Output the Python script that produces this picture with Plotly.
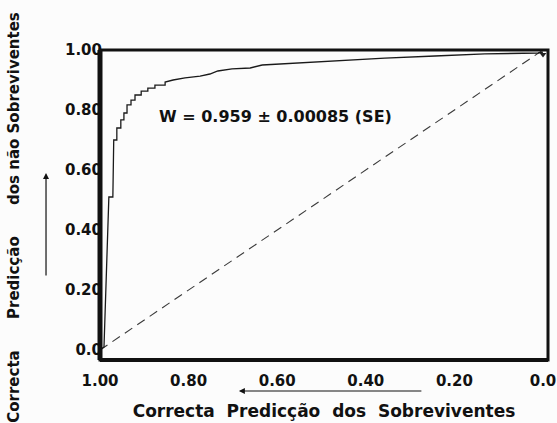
import plotly.graph_objects as go

# ROC curve: x = correct prediction of survivors (specificity),
# y = correct prediction of non-survivors (sensitivity)
roc_x = [1.0, 0.991, 0.980, 0.971, 0.969, 0.962, 0.962, 0.953, 0.953, 0.946, 0.946,
         0.939, 0.939, 0.930, 0.930, 0.921, 0.921, 0.907, 0.907, 0.892, 0.892,
         0.876, 0.876, 0.853, 0.853, 0.835, 0.808, 0.774, 0.752, 0.734, 0.702,
         0.661, 0.634, 0.549, 0.481, 0.413, 0.357, 0.244, 0.131, 0.011, 0.0]
roc_y = [0.0, 0.010, 0.510, 0.510, 0.700, 0.700, 0.740, 0.740, 0.767, 0.767, 0.790,
         0.790, 0.817, 0.817, 0.833, 0.833, 0.850, 0.850, 0.863, 0.863, 0.873,
         0.873, 0.883, 0.883, 0.893, 0.900, 0.907, 0.913, 0.920, 0.930, 0.937,
         0.940, 0.950, 0.957, 0.963, 0.967, 0.973, 0.980, 0.987, 0.990, 0.993]

chance_x = [1.0, 0.0]
chance_y = [0.0, 1.0]

end_x = [0.0]
end_y = [0.985]

x_tickvals = [1.0, 0.8, 0.6, 0.4, 0.2, 0.0]
x_ticktext = ["1.00", "0.80", "0.60", "0.40", "0.20", "0.0"]
y_tickvals = [0.0, 0.2, 0.4, 0.6, 0.8, 1.0]
y_ticktext = ["0.0", "0.20", "0.40", "0.60", "0.80", "1.00"]

annotation_text = "W = 0.959 ± 0.00085 (SE)"
x_title = "Correcta\u00a0 Predicção\u00a0 dos\u00a0 Sobreviventes"
y_title = ("Correcta" + "\u00a0" * 6 + "Predicção" + "\u00a0" * 6 + "dos não Sobreviventes")

FONT = "DejaVu Sans"

fig = go.Figure()
fig.add_trace(go.Scatter(x=chance_x, y=chance_y, mode="lines",
                         line=dict(color="#3a3a3a", width=1.1, dash="9px,6px"),
                         hoverinfo="skip", showlegend=False))
fig.add_trace(go.Scatter(x=roc_x, y=roc_y, mode="lines",
                         line=dict(color="#1a1a1a", width=1.3),
                         showlegend=False))
fig.add_trace(go.Scatter(x=end_x, y=end_y, mode="markers",
                         marker=dict(symbol="triangle-down", size=6, color="#222222"),
                         showlegend=False))

fig.update_layout(
    width=557, height=423,
    margin=dict(l=100, r=9, t=50, b=63, autoexpand=False),
    paper_bgcolor="#fcfcfc", plot_bgcolor="#fcfcfc",
    font=dict(family=FONT, color="#111111"),
    xaxis=dict(range=[1.0, -0.0113], tickvals=x_tickvals, ticktext=x_ticktext,
               showgrid=False, zeroline=False, showline=False, ticks="",
               automargin=False, ticklabelstandoff=10,
               tickfont=dict(family=FONT, size=15, weight="bold", color="#111111"),
               title=dict(text=x_title, standoff=16,
                          font=dict(family=FONT, size=17, weight="bold", color="#111111"))),
    yaxis=dict(range=[-0.0333, 1.0], tickvals=y_tickvals, ticktext=y_ticktext,
               showgrid=False, zeroline=False, showline=False, ticks="",
               automargin=False, ticklabelstandoff=-3,
               tickfont=dict(family=FONT, size=15, weight="bold", color="#111111")),
    shapes=[
        dict(type="rect", xref="paper", yref="paper", x0=0, x1=1, y0=0, y1=1,
             line=dict(color="#111111", width=3)),
        dict(type="line", xref="paper", yref="paper", x0=0, x1=0, y0=0, y1=1,
             line=dict(color="#111111", width=5)),
        dict(type="line", xref="paper", yref="paper", x0=0, x1=1, y0=0, y1=0,
             line=dict(color="#111111", width=4)),
    ],
    annotations=[
        dict(text=annotation_text, x=0.603, y=0.777, xref="x", yref="y",
             showarrow=False, font=dict(family=FONT, size=16, weight="bold", color="#111111")),
        dict(text=y_title, textangle=-90, x=-0.192, y=0.462, xref="paper", yref="paper",
             xanchor="center", yanchor="middle", showarrow=False,
             font=dict(family=FONT, size=15, weight="bold", color="#111111")),
        dict(text="", x=-0.1205, y=0.603, xref="paper", yref="paper",
             showarrow=True, ax=0, ay=104, arrowhead=2, arrowsize=1, arrowwidth=1.2,
             arrowcolor="#111111"),
        dict(text="", x=0.310, y=-0.10, xref="paper", yref="paper",
             showarrow=True, ax=184, ay=0, arrowhead=2, arrowsize=1, arrowwidth=1.2,
             arrowcolor="#111111"),
    ],
)

fig.write_html("out.html", config={"displayModeBar": False},
               post_script="document.body.style.margin='0';document.body.style.background='#fcfcfc';")
